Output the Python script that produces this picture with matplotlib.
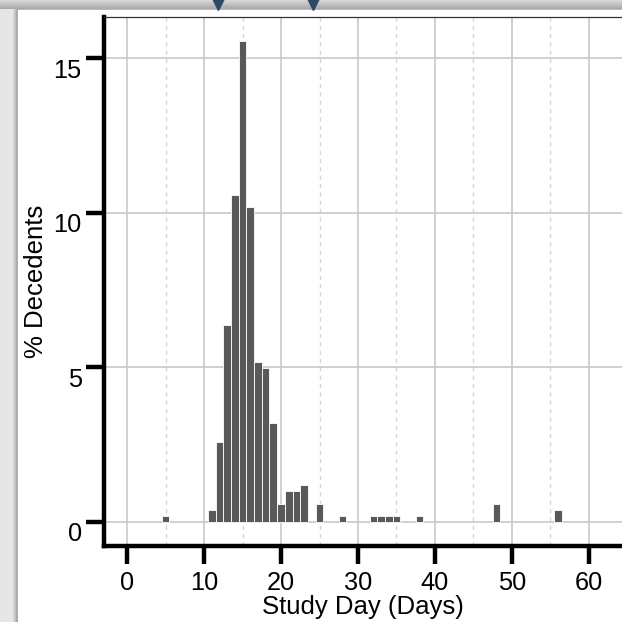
import numpy as np
import matplotlib
matplotlib.use("Agg")
import matplotlib.pyplot as plt
from matplotlib.ticker import MultipleLocator
from matplotlib.patches import Rectangle
import matplotlib.transforms as mtransforms

plt.rcParams['font.family'] = ['Liberation Sans', 'DejaVu Sans']

# share of decedents by study day
days = [5, 11, 12, 13, 14, 15, 16, 17, 18, 19, 20, 21, 22, 23, 25, 28,
        32, 33, 34, 35, 38, 48, 56]
pct = [0.19, 0.39, 2.6, 6.38, 10.58, 15.57, 10.18, 5.18, 4.98, 3.19, 0.58,
       1.0, 1.0, 1.2, 0.58, 0.19, 0.19, 0.19, 0.19, 0.19, 0.19, 0.58, 0.39]
x_ticks = [0, 10, 20, 30, 40, 50, 60]
y_ticks = [0, 5, 10, 15]

W = H = 622
fig = plt.figure(figsize=(6.22, 6.22), dpi=100, facecolor='#e6e6e6')

# frame decoration: shadow, white panel, top strip
for i, a in enumerate([0.05, 0.08, 0.12, 0.18, 0.25]):
    fig.patches.append(Rectangle(((13 + i) / W, 0), 1, (H - 6 - i) / H,
                                 transform=fig.transFigure, color='#707070',
                                 alpha=a, zorder=-5))
fig.patches.append(Rectangle((18 / W, 0), 1, (H - 10) / H,
                             transform=fig.transFigure, color='white', zorder=-4))
strip = fig.add_axes([0, 1 - 9 / H, 1, 9 / H])
grad = np.linspace(0.85, 0.66, 20).reshape(-1, 1)
strip.imshow(grad, aspect='auto', cmap='gray', vmin=0, vmax=1,
             extent=[0, 1, 0, 1])
strip.plot([218 / W, 313 / W], [0.55, 0.55], 'v', color='#2e4a62',
           markersize=8, clip_on=False)
strip.set_xlim(0, 1)
strip.set_ylim(0, 1)
strip.axis('off')

ax = fig.add_axes([104 / W, (H - 546) / H, (W - 104) / W, (546 - 17) / H])
ax.bar(days, pct, width=1.0, color='#595959', edgecolor='white', linewidth=0.6,
       zorder=3)

ax.set_xlim(-3, 64.3)
ax.set_ylim(-0.78, 16.34)
ax.set_xticks(x_ticks)
ax.set_yticks(y_ticks)
ax.xaxis.set_minor_locator(MultipleLocator(5))
ax.set_axisbelow(True)
ax.grid(which='major', color='#c8c8c8', linewidth=1.2)
ax.grid(which='minor', axis='x', color='#d6d6d6', linewidth=1.0,
        linestyle=(0, (3, 3)))

ax.spines['right'].set_visible(False)
ax.spines['top'].set_color('#333333')
ax.spines['top'].set_linewidth(0.9)
ax.spines['left'].set_linewidth(3.2)
ax.spines['bottom'].set_linewidth(3.2)
ax.tick_params(which='major', length=13, width=3.2, direction='out',
               labelsize=18.3, pad=3)
ax.tick_params(which='minor', length=0)
ax.tick_params(axis='x', pad=5)

offset = mtransforms.ScaledTranslation(0, -10 / 100, fig.dpi_scale_trans)
for lab in ax.get_yticklabels():
    lab.set_transform(lab.get_transform() + offset)

ax.set_xlabel('Study Day (Days)', fontsize=18.5, labelpad=0)
ax.set_ylabel('% Decedents', fontsize=18.5, labelpad=4)

fig.savefig('out.png', dpi=100, facecolor=fig.get_facecolor())
